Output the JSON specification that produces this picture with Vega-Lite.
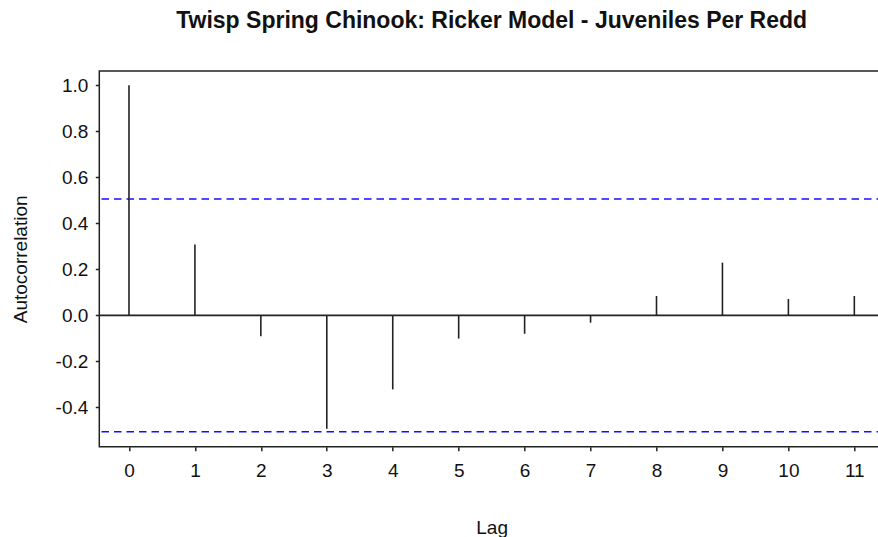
{
  "$schema": "https://vega.github.io/schema/vega-lite/v6.json",
  "width": 784.7,
  "height": 375.7,
  "autosize": {"type": "none"},
  "padding": {"left": 99.3, "top": 71, "right": 0, "bottom": 90.3},
  "background": "white",
  "config": {
    "font": "Liberation Sans",
    "view": {"stroke": "#222", "strokeWidth": 1.5},
    "axis": {"grid": false, "domain": false, "labelColor": "#111", "titleColor": "#111", "tickColor": "#222", "tickWidth": 1.5, "labelFont": "Liberation Sans", "titleFont": "Liberation Sans", "titleFontWeight": "normal"}
  },
  "title": {
    "text": "Twisp Spring Chinook: Ricker Model - Juveniles Per Redd",
    "font": "Liberation Sans",
    "fontSize": 23,
    "fontWeight": "bold",
    "color": "#111",
    "anchor": "middle",
    "frame": "group",
    "baseline": "alphabetic",
    "offset": 19.7
  },
  "datasets": {
    "acf": [
      {"lag": 0, "acf": 1.0},
      {"lag": 1, "acf": 0.308},
      {"lag": 2, "acf": -0.091},
      {"lag": 3, "acf": -0.493},
      {"lag": 4, "acf": -0.322},
      {"lag": 5, "acf": -0.101},
      {"lag": 6, "acf": -0.080},
      {"lag": 7, "acf": -0.032},
      {"lag": 8, "acf": 0.084},
      {"lag": 9, "acf": 0.229},
      {"lag": 10, "acf": 0.071},
      {"lag": 11, "acf": 0.084}
    ],
    "ci": [
      {"bound": 0.506},
      {"bound": -0.506}
    ]
  },
  "layer": [
    {
      "data": {"name": "ci"},
      "mark": {"type": "rule", "color": "#1010ff", "strokeWidth": 1.5, "strokeDash": [7.5, 5]},
      "encoding": {
        "y": {"field": "bound", "type": "quantitative", "scale": {"domain": [-0.571, 1.062], "nice": false, "zero": false}}
      }
    },
    {
      "data": {"name": "acf"},
      "mark": {"type": "rule", "color": "#222", "strokeWidth": 1.6},
      "encoding": {
        "x": {
          "field": "lag", "type": "quantitative",
          "scale": {"domain": [-0.45, 11.45], "nice": false, "zero": false},
          "axis": {"values": [0,1,2,3,4,5,6,7,8,9,10,11], "title": "Lag", "labelFontSize": 19, "titleFontSize": 19, "tickSize": 4, "labelPadding": 10.5, "titleY": 86.8, "titleBaseline": "alphabetic", "labelFlush": false}
        },
        "y": {
          "field": "acf", "type": "quantitative",
          "scale": {"domain": [-0.571, 1.062], "nice": false, "zero": false},
          "axis": {"values": [-0.4, -0.2, 0, 0.2, 0.4, 0.6, 0.8, 1.0], "title": "Autocorrelation", "labelExpr": "replace(format(datum.value, '.1f'), '\u2212', '-')", "labelFontSize": 19, "titleFontSize": 19, "tickSize": 4, "labelPadding": 7.5, "titleX": -72.7, "titleBaseline": "alphabetic", "titleAngle": 270, "labelFlush": false}
        },
        "y2": {"datum": 0}
      }
    },
    {
      "data": {"values": [{}]},
      "mark": {"type": "rule", "color": "#222", "strokeWidth": 1.6},
      "encoding": {"y": {"datum": 0}}
    }
  ]
}
